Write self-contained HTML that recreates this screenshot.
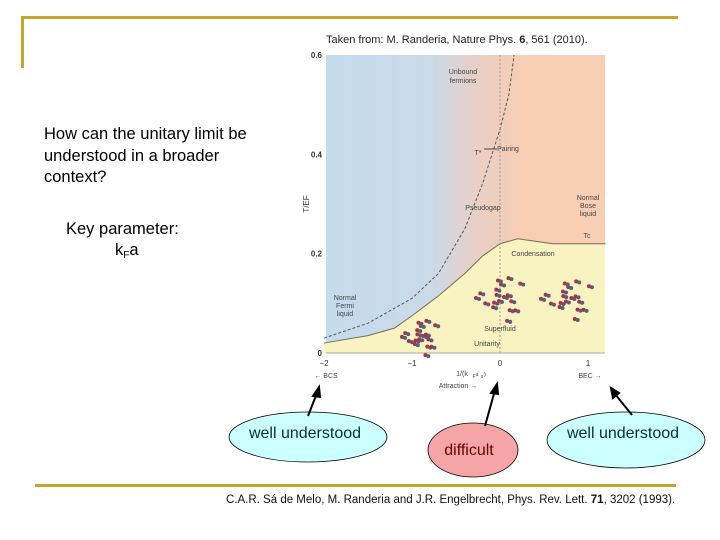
<!DOCTYPE html>
<html><head><meta charset="utf-8"><style>
body{margin:0;background:#fff;}
svg{display:block;font-family:"Liberation Sans",sans-serif;}
</style></head><body>
<svg id="s" width="720" height="540" viewBox="0 0 720 540">
<defs>
<linearGradient id="bg" x1="0" x2="1" y1="0" y2="0">
<stop offset="0" stop-color="#c4dbee"/><stop offset="0.38" stop-color="#cbd9e8"/>
<stop offset="0.55" stop-color="#e9cfc4"/><stop offset="0.7" stop-color="#f7cdb4"/><stop offset="1" stop-color="#f8cfb4"/>
</linearGradient>
</defs>
<rect x="22" y="16" width="656" height="3" fill="#c8a42c"/>
<rect x="21" y="16" width="3" height="52" fill="#c8a42c"/>
<rect x="35" y="484" width="641" height="3" fill="#c8a42c"/>
<text x="326" y="43" font-size="11" fill="#222">Taken from: M. Randeria, Nature Phys. <tspan font-weight="bold">6</tspan>, 561 (2010).</text>
<g font-size="16.5" fill="#000">
<text x="44" y="139">How can the unitary limit be</text>
<text x="44" y="161">understood in a broader</text>
<text x="44" y="182">context?</text>
<text x="66" y="234">Key parameter:</text>
<text x="115" y="255">k<tspan font-size="10" dy="3">F</tspan><tspan dy="-3">a</tspan></text>
</g>
<g id="chart"></g>
<g>
<ellipse cx="308" cy="437" rx="79" ry="25" fill="#ccffff" stroke="#000" stroke-width="0.8"/>
<text x="305" y="438" font-size="16" text-anchor="middle" fill="#003333">well understood</text>
<ellipse cx="473" cy="450" rx="45" ry="27" fill="#f5a5a5" stroke="#000" stroke-width="0.8"/>
<text x="469" y="455" font-size="16" text-anchor="middle" fill="#660000">difficult</text>
<ellipse cx="626" cy="440" rx="79" ry="28" fill="#ccffff" stroke="#000" stroke-width="0.8"/>
<text x="623" y="438" font-size="16" text-anchor="middle" fill="#003333">well understood</text>
<g stroke="#000" stroke-width="2" fill="#000">
<line x1="308" y1="416" x2="317" y2="393"/>
<polygon points="319,387 313,396 320,397"/>
<line x1="485" y1="426" x2="495" y2="390"/>
<polygon points="497,384 491,393 498,394"/>
<line x1="632" y1="415" x2="615" y2="394"/>
<polygon points="611,388 613,398 619,393"/>
</g>
</g>
<text x="226" y="503" font-size="11.5" fill="#111">C.A.R. Sá de Melo, M. Randeria and J.R. Engelbrecht, Phys. Rev. Lett. <tspan font-weight="bold">71</tspan>, 3202 (1993).</text>
</svg>
<script>
const xTicks=[-2,-1,0,1];
const yTicks=[0,0.2,0.4,0.6];
const yTickLabels=["0","0.2","0.4","0.6"];
const tcX=[-2,-1.5,-1.2,-1,-0.7,-0.4,-0.2,0,0.2,0.4,0.6,0.8,1.2];
const tcY=[0.02,0.035,0.05,0.075,0.115,0.16,0.195,0.22,0.23,0.225,0.22,0.22,0.22];
const tsX=[-2,-1.5,-1,-0.7,-0.4,-0.2,0,0.1,0.16];
const tsY=[0.03,0.06,0.11,0.16,0.25,0.34,0.45,0.52,0.6];
const X0=326,X1=605,Y0=353,Y1=55;
function sx(v){return 500+(v)*88;}
function sy(v){return Y0-(v/0.6)*(Y0-Y1);}
const NS="http://www.w3.org/2000/svg";
const g=document.getElementById('chart');
function mk(t,a,p){const e=document.createElementNS(NS,t);for(const k in a)e.setAttribute(k,a[k]);(p||g).appendChild(e);return e;}
let e=mk('rect',{x:X0,y:Y1,width:X1-X0,height:Y0-Y1,fill:'url(#bg)'});


let d='M'+sx(tcX[0])+','+Y0;
tcX.forEach((x,i)=>d+=' L'+sx(x)+','+sy(tcY[i]));
d+=' L'+X1+','+sy(tcY[tcY.length-1])+' L'+X1+','+Y0+' Z';
e=mk('path',{d:d,fill:'#f8f3c0'});


d='';tcX.forEach((x,i)=>d+=(i?' L':'M')+sx(x)+','+sy(tcY[i]));d+=' L'+X1+','+sy(tcY[tcY.length-1]);
e=mk('path',{d:d,fill:'none',stroke:'#7a6a50','stroke-width':1});


d='';tsX.forEach((x,i)=>d+=(i?' L':'M')+sx(x)+','+sy(tsY[i]));
e=mk('path',{d:d,fill:'none',stroke:'#555','stroke-width':1,'stroke-dasharray':'3,2'});


e=mk('line',{x1:sx(0),x2:sx(0),y1:Y1,y2:Y0,stroke:'#999','stroke-width':1,'stroke-dasharray':'2,2'});


e=mk('line',{x1:X0,x2:X1,y1:Y0,y2:Y0,stroke:'#aaa','stroke-width':1});


xTicks.forEach(v=>{
 const t=mk('text',{x:sx(v),y:366,'font-size':8,'text-anchor':'middle',fill:'#333'});
 t.textContent=v<0?'\u2212'+(-v):String(v);
 
 
});
yTicks.forEach((v,i)=>{
 const t=mk('text',{x:322,y:sy(v)+3,'font-size':8,'text-anchor':'end',fill:'#333','font-weight':'bold'});
 t.textContent=yTickLabels[i];
 
 
});
const labels=[["Unbound",463,74],["fermions",463,83],["Pairing",508,151],["T*",478,155],["Pseudogap",483,210],["Normal",588,200],["Bose",588,208],["liquid",588,216],["Tc",587,238],["Condensation",533,256],["Normal",345,300],["Fermi",345,308],["liquid",345,316],["Superfluid",500,331],["Unitarity",487,346],["1/(k",462,376],["F",474,378],["a",477,376],["s",482,378],[")",485,376],["Attraction \u2192",458,388],["\u2190 BCS",326,378],["BEC \u2192",590,378]];
labels.forEach(l=>{
 const t=mk('text',{x:l[1],y:l[2],'font-size':l[0].length==1?5:7,'text-anchor':'middle',fill:'#444'});
 t.textContent=l[0];
 
 
});
const yl=mk('text',{x:0,y:0,'font-size':8,'text-anchor':'middle',fill:'#333',transform:'translate(309,204) rotate(-90)'});
yl.textContent='T/EF';


e=mk('line',{x1:484,x2:497,y1:149,y2:149,stroke:'#444','stroke-width':1});


// molecule clusters
const clusters=[[420,336,18,20],[500,297,24,25],[567,298,26,22]];
clusters.forEach(c=>{
 const cg=mk('g',{});
 
 
 for(let i=0;i<18;i++){
  const a=i*2.4,r=(i%6+1)/6;
  const px=c[0]+Math.cos(a)*c[2]*r,py=c[1]+Math.sin(a)*c[3]*r;
  mk('circle',{cx:px,cy:py,r:2,fill:'#b03040'},cg);
  mk('circle',{cx:px+3,cy:py+1,r:2,fill:'#506080'},cg);
 }
});
</script>
</body></html>
